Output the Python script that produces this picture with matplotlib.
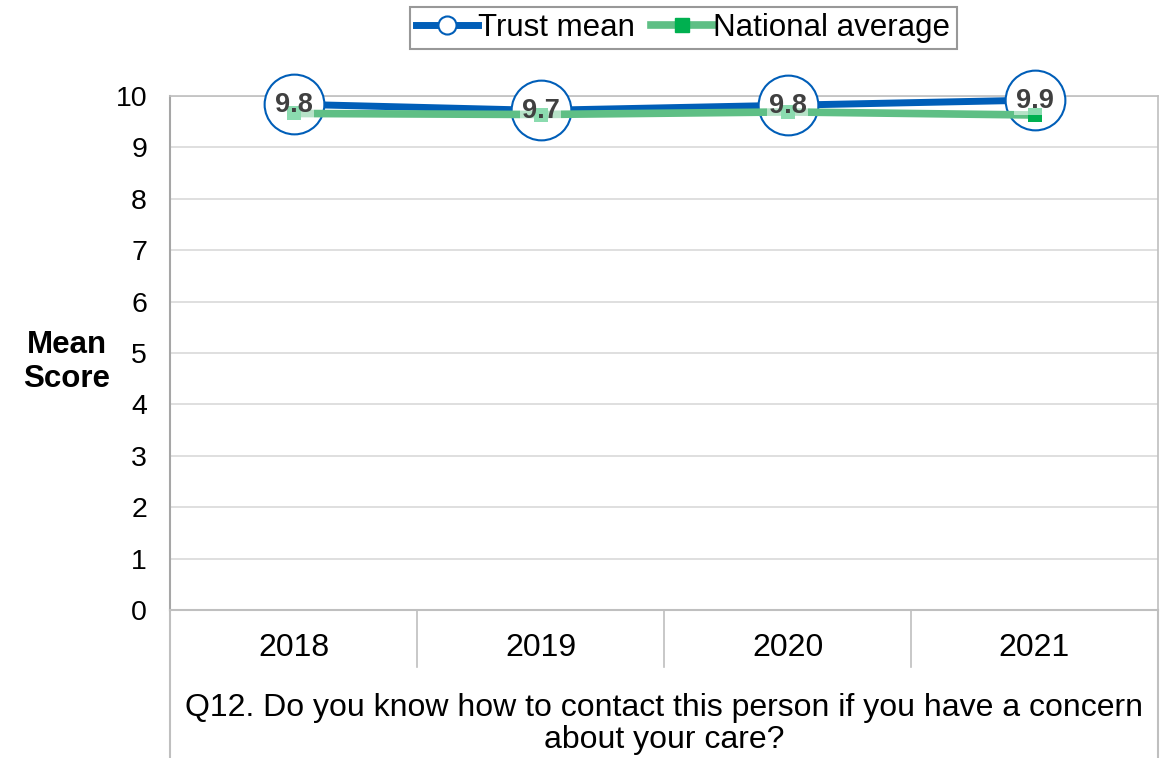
import matplotlib
matplotlib.use("Agg")
import matplotlib.pyplot as plt
from matplotlib.transforms import blended_transform_factory
from matplotlib.lines import Line2D

plt.rcParams['font.family'] = ['Liberation Sans', 'DejaVu Sans']

years = ["2018", "2019", "2020", "2021"]
trust_mean = [9.84, 9.72, 9.82, 9.92]
trust_labels = ["9.8", "9.7", "9.8", "9.9"]
national_avg = [9.66, 9.64, 9.69, 9.63]
question = "Q12. Do you know how to contact this person if you have a concern\nabout your care?"

BLUE = "#005EB8"
GREEN_LINE = "#5FBF85"
GREEN_MK = "#00B050"
GRID = "#D9D9D9"
BORDER = "#BFBFBF"

W, H = 1165, 758
fig = plt.figure(figsize=(W / 100, H / 100), dpi=100)
x0, x1, ytop, ybot = 170, 1158, 96, 610
ax = fig.add_axes([x0 / W, 1 - ybot / H, (x1 - x0) / W, (ybot - ytop) / H])

x = list(range(len(years)))
ax.set_xlim(-0.5, len(years) - 0.5)
ax.set_ylim(0, 10)
ax.set_yticks(range(0, 11))
ax.tick_params(axis='y', length=0, labelsize=20.5, pad=16.5)
ax.set_xticks([])
ax.grid(axis='y', color=GRID, linewidth=1.2, zorder=0)
for s in ['top', 'right']:
    ax.spines[s].set_color(BORDER)
    ax.spines[s].set_linewidth(1.2)
ax.spines['left'].set_color('#A6A6A6')
ax.spines['left'].set_linewidth(1.5)
ax.spines['bottom'].set_color(BORDER)
ax.spines['bottom'].set_linewidth(1.5)

# Trust mean line
ax.plot(x, trust_mean, color=BLUE, linewidth=5, zorder=3, solid_capstyle='butt')
ax.scatter(x, trust_mean, s=1850, facecolor='white', edgecolor=BLUE, linewidth=1.5, zorder=4,
           clip_on=False)
# National average
ax.plot(x, national_avg, color=GREEN_LINE, linewidth=5.5, zorder=5, solid_capstyle='butt')
ax.scatter(x, national_avg, s=110, marker='s', color=GREEN_MK, zorder=6, linewidth=0)

for xi, yi, lab in zip(x, trust_mean, trust_labels):
    ax.text(xi, yi - 0.02, lab, ha='center', va='center', fontsize=19.5, fontweight='bold',
            color='#404040', zorder=7,
            bbox=dict(boxstyle='square,pad=0.05', facecolor='white', alpha=0.55, edgecolor='none'))

# Category table below axis
tr = blended_transform_factory(ax.transData, fig.transFigure)
ycat_bot = 1 - 667 / H
for b in [0.5, 1.5, 2.5]:
    ax.add_line(Line2D([b, b], [1 - ybot / H, ycat_bot], transform=tr, color=BORDER,
                       linewidth=1.2, clip_on=False))
for b in [-0.5, 3.5]:
    ax.add_line(Line2D([b, b], [1 - ybot / H, 0], transform=tr, color=BORDER,
                       linewidth=1.5, clip_on=False))
for xi, yr in zip(x, years):
    ax.text(xi, 1 - 648 / H, yr, transform=tr, ha='center', va='center', fontsize=23)
ax.text(1.5, 1 - 724 / H, question, transform=tr, ha='center', va='center', fontsize=23,
        linespacing=1.1)

fig.text(67 / W, 1 - 362 / H, "Mean\nScore", ha='center', va='center', fontsize=22.5,
         fontweight='bold', linespacing=1.2)

handles = [
    Line2D([], [], color=BLUE, linewidth=5, marker='o', markersize=13,
           markerfacecolor='white', markeredgecolor=BLUE, markeredgewidth=1.5),
    Line2D([], [], color=GREEN_LINE, linewidth=5.5, marker='s', markersize=10,
           markerfacecolor=GREEN_MK, markeredgecolor=GREEN_MK),
]
leg = fig.legend(handles, ["Trust mean", "National average"], loc='center',
                 bbox_to_anchor=(683 / W, 1 - 28 / H), ncol=2, frameon=True, fancybox=False,
                 fontsize=22.5, handlelength=2.0, handletextpad=0.0, columnspacing=0.5,
                 borderpad=0.2, borderaxespad=0, edgecolor='#7F7F7F')
leg.get_frame().set_linewidth(1.5)

fig.savefig("out.png", dpi=100)
